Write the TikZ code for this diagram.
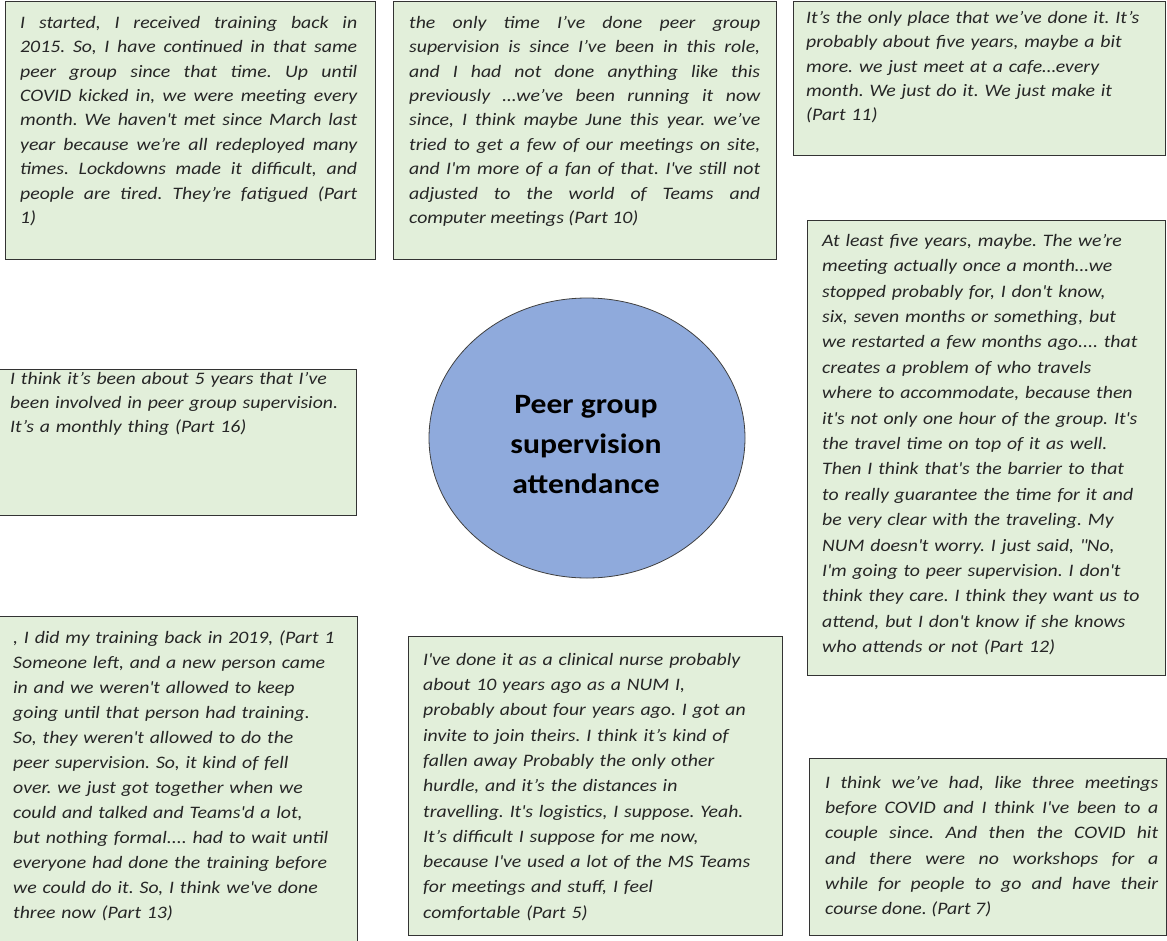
\documentclass[tikz,border=0pt]{standalone}
\usepackage{fontspec}
\setmainfont{Carlito}[FakeStretch=1.13]
\usetikzlibrary{shapes.geometric}
\frenchspacing

\definecolor{boxfill}{HTML}{E2EFDA}
\definecolor{boxline}{HTML}{333333}
\definecolor{hubfill}{HTML}{8FAADC}
\definecolor{inktext}{HTML}{262626}

% first-line strut: the top of every quote block sits 16pt above its first baseline
\newcommand\qstrut{\noindent\rule{0pt}{16pt}}
\newcommand\ap{\textquotesingle}

\tikzset{
  quotebox/.style={draw=boxline, fill=boxfill, line width=1.4pt, inner sep=0pt,
    anchor=north west, minimum width=#1},
  quotetext/.style={anchor=north west, inner sep=0pt, text=inktext, text width=#1},
  lead/.style={font=\itshape\fontsize{17.5}{#1}\selectfont},
  hub/.style={ellipse, draw=black!75, line width=0.8pt, fill=hubfill,
    minimum width=316pt, minimum height=280pt, inner sep=0pt},
  hubtext/.style={align=center, font=\bfseries\fontsize{28}{40}\selectfont, text=black}
}

\begin{document}
\begin{tikzpicture}[x=1pt,y=-1pt]
\useasboundingbox (0,0) rectangle (1167,940);

% quotation boxes
\node[quotebox=370pt, minimum height=258pt] (b1) at (5,1) {};
\node[quotebox=383pt, minimum height=258pt] (b2) at (393,1) {};
\node[quotebox=372pt, minimum height=154pt] (b3) at (793,1) {};
\node[quotebox=358pt, minimum height=455pt] (b4) at (807,220) {};
\node[quotebox=358pt, minimum height=146pt] (b5) at (-2,369) {};
\node[quotebox=359pt, minimum height=330pt] (b6) at (-2,616) {};
\node[quotebox=374pt, minimum height=299pt] (b7) at (408,636) {};
\node[quotebox=357pt, minimum height=177pt] (b8) at (809,758) {};

% central theme
\node[hub] (hub) at (587,438) {};
\node[hubtext] (hublabel) at (586,445) {Peer group\\supervision\\attendance};

% quotations
\node[quotetext=337pt, lead=24.4pt, align=justify] (t1) at (20,12) {\qstrut
I started, I received training back in\linebreak
2015. So, I have continued in that same\linebreak
peer group since that time. Up until\linebreak
COVID kicked in, we were meeting every\linebreak
month. We haven\ap t met since March last\linebreak
year because we’re all redeployed many\linebreak
times. Lockdowns made it difficult, and\linebreak
people are tired. They’re fatigued (Part\linebreak
1)};

\node[quotetext=351pt, lead=24.4pt, align=justify] (t2) at (409,12) {\qstrut
the only time I’ve done peer group\linebreak
supervision is since I’ve been in this role,\linebreak
and I had not done anything like this\linebreak
previously …we’ve been running it now\linebreak
since, I think maybe June this year. we’ve\linebreak
tried to get a few of our meetings on site,\linebreak
and I\ap m more of a fan of that. I\ap ve still not\linebreak
adjusted to the world of Teams and\linebreak
computer meetings (Part 10)};

\node[quotetext=360pt, lead=24.4pt, align=left] (t3) at (806,7) {\qstrut
It’s the only place that we’ve done it. It’s\\
probably about five years, maybe a bit\\
more. we just meet at a cafe…every\\
month. We just do it. We just make it\\
(Part 11)};

\node[quotetext=340pt, lead=25.4pt, align=left] (t4) at (822,230) {\qstrut
At least five years, maybe. The we’re\\
meeting actually once a month…we\\
stopped probably for, I don\ap t know,\\
six, seven months or something, but\\
we restarted a few months ago.... that\\
creates a problem of who travels\\
where to accommodate, because then\\
it\ap s not only one hour of the group. It\ap s\\
the travel time on top of it as well.\\
Then I think that\ap s the barrier to that\\
to really guarantee the time for it and\\
be very clear with the traveling. My\\
NUM doesn\ap t worry. I just said, \textquotedbl No,\\
I\ap m going to peer supervision. I don\ap t\\
think they care. I think they want us to\\
attend, but I don\ap t know if she knows\\
who attends or not (Part 12)};

\node[quotetext=345pt, lead=24pt, align=left] (t5) at (10,368) {\qstrut
I think it’s been about 5 years that I’ve\\
been involved in peer group supervision.\\
It’s a monthly thing (Part 16)};

\node[quotetext=340pt, lead=25pt, align=left] (t6) at (13,627) {\qstrut
, I did my training back in 2019, (Part 1\\
Someone left, and a new person came\\
in and we weren\ap t allowed to keep\\
going until that person had training.\\
So, they weren\ap t allowed to do the\\
peer supervision. So, it kind of fell\\
over. we just got together when we\\
could and talked and Teams\ap d a lot,\\
but nothing formal.... had to wait until\\
everyone had done the training before\\
we could do it. So, I think we\ap ve done\\
three now (Part 13)};

\node[quotetext=352pt, lead=25.3pt, align=left] (t7) at (423,649) {\qstrut
I\ap ve done it as a clinical nurse probably\\
about 10 years ago as a NUM I,\\
probably about four years ago. I got an\\
invite to join theirs. I think it’s kind of\\
fallen away Probably the only other\\
hurdle, and it’s the distances in\\
travelling. It\ap s logistics, I suppose. Yeah.\\
It’s difficult I suppose for me now,\\
because I\ap ve used a lot of the MS Teams\\
for meetings and stuff, I feel\\
comfortable (Part 5)};

\node[quotetext=333pt, lead=25.3pt, align=justify] (t8) at (825,772) {\qstrut
I think we’ve had, like three meetings\linebreak
before COVID and I think I\ap ve been to a\linebreak
couple since. And then the COVID hit\linebreak
and there were no workshops for a\linebreak
while for people to go and have their\linebreak
course done. (Part 7)};
\end{tikzpicture}
\end{document}
